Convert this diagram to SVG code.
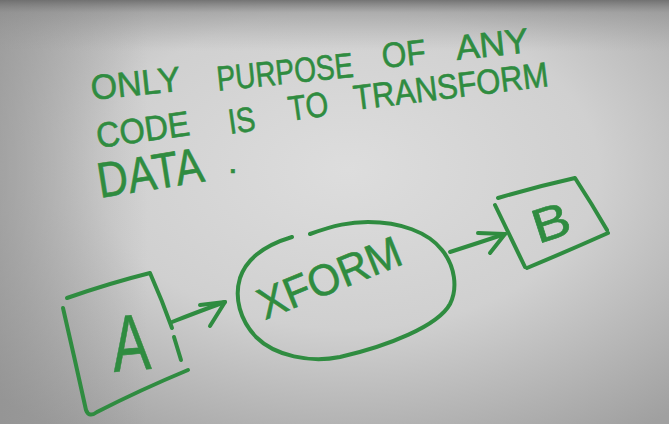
<svg xmlns="http://www.w3.org/2000/svg" width="669" height="424" viewBox="0 0 669 424">
  <defs>
    <radialGradient id="paper" cx="0.52" cy="0.4" r="0.75">
      <stop offset="0" stop-color="#dddddd"/>
      <stop offset="0.5" stop-color="#d0d0d0"/>
      <stop offset="1" stop-color="#a0a0a0"/>
    </radialGradient>
    <linearGradient id="topband" x1="0" y1="0" x2="0" y2="1">
      <stop offset="0" stop-color="#6a6a6a" stop-opacity="0.9"/>
      <stop offset="0.03" stop-color="#8a8a8a" stop-opacity="0.5"/>
      <stop offset="0.12" stop-color="#9a9a9a" stop-opacity="0"/>
    </linearGradient>
    <linearGradient id="leftshade" x1="0" y1="0" x2="1" y2="0">
      <stop offset="0" stop-color="#8c8c8c" stop-opacity="0.55"/>
      <stop offset="0.22" stop-color="#8c8c8c" stop-opacity="0"/>
    </linearGradient>
  </defs>
  <style>
    .ink { fill: none; stroke: #2f8c40; stroke-width: 4; stroke-linecap: round; stroke-linejoin: round; }
    .hand { font-family: "Liberation Sans", Arial, sans-serif; fill: #2f8c40; stroke: #2f8c40; stroke-width: 0.6; }
    .t1 { font-size: 35px; }
    .t3 { font-size: 50px; }
  </style>

  <rect width="669" height="424" fill="url(#paper)"/>
  <rect width="669" height="424" fill="url(#leftshade)"/>
  <rect width="669" height="424" fill="url(#topband)"/>

  <g id="caption">
    <text class="hand t1" x="92" y="100" textLength="90" lengthAdjust="spacingAndGlyphs" transform="rotate(-6 92 100)">ONLY</text>
    <text class="hand t1" x="218" y="91" textLength="137" lengthAdjust="spacingAndGlyphs" transform="rotate(-6 218 91)">PURPOSE</text>
    <text class="hand t1" x="383" y="68" textLength="44" lengthAdjust="spacingAndGlyphs" transform="rotate(-6 383 68)">OF</text>
    <text class="hand t1" x="457" y="60" textLength="73" lengthAdjust="spacingAndGlyphs" transform="rotate(-6 457 60)">ANY</text>

    <text class="hand t1" x="98" y="148" textLength="94" lengthAdjust="spacingAndGlyphs" transform="rotate(-8 98 148)">CODE</text>
    <text class="hand t1" x="230" y="134" textLength="27" lengthAdjust="spacingAndGlyphs" transform="rotate(-8 230 134)">IS</text>
    <text class="hand t1" x="290" y="121" textLength="40" lengthAdjust="spacingAndGlyphs" transform="rotate(-8 290 121)">TO</text>
    <text class="hand t1" x="355" y="110" textLength="196" lengthAdjust="spacingAndGlyphs" transform="rotate(-7 355 110)">TRANSFORM</text>

    <text class="hand t3" x="100" y="198" textLength="107" lengthAdjust="spacingAndGlyphs" transform="rotate(-9 100 198)">DATA</text>
    <text class="hand t1" x="228" y="173">.</text>
  </g>

  <g id="node-a">
    <path class="ink" d="M67,298 Q110,283 150,273 Q162,300 172,328"/>
    <path class="ink" d="M174,337 L181,360"/>
    <path class="ink" d="M63,308 Q75,360 86,410 Q89,418 97,412 Q140,390 188,370"/>
    <text class="hand" x="114" y="372" font-size="80" textLength="38" lengthAdjust="spacingAndGlyphs" transform="rotate(-5 114 372)">A</text>
  </g>

  <g id="node-xform">
    <path class="ink" d="M310,234 C335,225 350,222 368,222 C400,222 428,232 442,250 C455,266 458,288 450,304 C438,326 388,346 340,357 C310,363 275,356 256,337 C240,320 234,298 240,278 C246,260 262,246 292,237"/>
    <text class="hand" x="265" y="320" font-size="44" textLength="151" lengthAdjust="spacingAndGlyphs" transform="rotate(-22 265 320)">XFORM</text>
  </g>

  <g id="node-b">
    <path class="ink" d="M498,198 Q535,187 575,178 Q592,204 607,230"/>
    <path class="ink" d="M608,233 Q570,250 527,268"/>
    <path class="ink" d="M495,205 Q510,236 525,267"/>
    <text class="hand" x="538" y="244" font-size="48" textLength="38" lengthAdjust="spacingAndGlyphs" transform="rotate(-18 538 244)">B</text>
  </g>

  <g id="connectors">
    <path class="ink" d="M172,322 Q200,311 225,302"/>
    <path class="ink" d="M200,305 L225,302 L210,326"/>
    <path class="ink" d="M450,252 Q478,243 505,234"/>
    <path class="ink" d="M478,233 L505,234 L490,253"/>
  </g>
</svg>
